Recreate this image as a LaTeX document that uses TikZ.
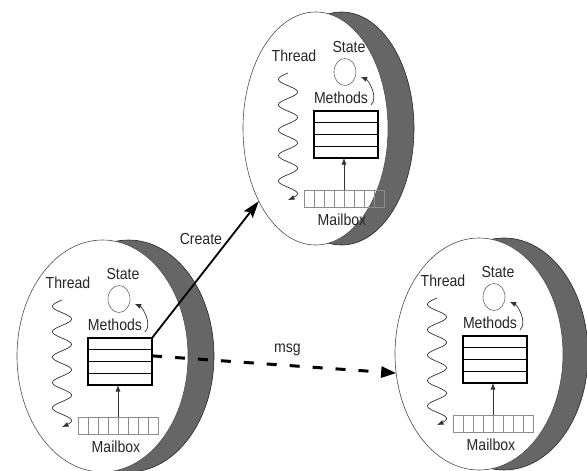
\documentclass[tikz,border=0pt]{standalone}
\usepackage{fontspec}
\setmainfont{Liberation Sans}[FakeStretch=0.88]
\usetikzlibrary{arrows.meta,shapes.geometric}

\tikzset{
	disk/.style={ellipse,draw=black!70,line width=0.6pt,fill=white,inner sep=0pt,outer sep=0pt},
	rim/.style={ellipse,draw=black!85,line width=0.6pt,fill=black!60,inner sep=0pt,outer sep=0pt},
	lbl/.style={font=\fontsize{16}{18}\selectfont,text=black!85,inner sep=0pt},
	methods/.style={rectangle,draw=black,line width=1.1pt,minimum width=64pt,minimum height=47pt,inner sep=0pt,outer sep=0pt},
	mailbox/.style={rectangle,draw=black!45,line width=0.6pt,minimum width=80pt,minimum height=17pt,inner sep=0pt,outer sep=0pt},
	statecirc/.style={ellipse,draw=black!60,line width=0.6pt,minimum width=22pt,minimum height=27pt,inner sep=0pt},
	feed/.style={-{Latex[length=6.5pt,width=5pt]},black!80,line width=0.7pt},
	create/.style={-{Stealth[length=17pt,width=11pt,inset=3pt]},black,line width=1.8pt},
	msg/.style={-{Triangle[length=15pt,width=11pt]},black,line width=3pt,dash pattern=on 10pt off 13pt},
	pics/actor/.style={code={
		\node[lbl] (-thread) at (-20,-55) {Thread};
		\node[lbl] (-statelbl) at (35,-64) {State};
		\node[statecirc] (-state) at (31,-39) {};
		\node[lbl] (-methodslbl) at (27,-13) {Methods};
		\node[methods] (-box) at (32,23.5) {};
		\foreach \r in {11.75,23.5,35.25}
			\draw[line width=1.1pt] (0,\r) -- (64,\r);
		\node[mailbox] (-mail) at (30,87.5) {};
		\foreach \c in {1,...,7}
			\draw[black!45,line width=0.6pt] (-10+\c*10,79) -- (-10+\c*10,96);
		\node[lbl] (-maillbl) at (28,109) {Mailbox};
		\draw[feed] (-mail.north) -- (-mail.north |- -box.south);
		\coordinate (-from) at (57,-6);
		\draw[feed,shorten >=5pt] (-from) .. controls +(8,-8) and +(12,5) .. (-state.-15);
		\draw[feed] plot[domain=0:127,samples=160,smooth] ({-26-9.5*sin(\x*14.1732)},{-38+\x});
	}}
}

\begin{document}
\begin{tikzpicture}[x=1pt,y=-1pt]
	\useasboundingbox (0,0) rectangle (587,471);
	\node[rim,minimum width=145pt,minimum height=233pt] (toprim) at (341.5,128.5) {};
	\node[disk,minimum width=145pt,minimum height=233pt] (topdisk) at (315.5,128.5) {};
	\node[rim,minimum width=171pt,minimum height=232pt] (leftrim) at (128.5,356) {};
	\node[disk,minimum width=171pt,minimum height=232pt] (leftdisk) at (102.5,356) {};
	\node[rim,minimum width=168pt,minimum height=232pt] (rightrim) at (504,354) {};
	\node[disk,minimum width=168pt,minimum height=232pt] (rightdisk) at (479,354) {};
	\pic (top) at (314,111) {actor};
	\pic (left) at (88,338) {actor};
	\pic (right) at (463,336) {actor};
	\path
		(left-box.north east) edge[create] node[lbl,pos=0.72,left=6pt] {Create} (topdisk)
		(left-box.10) edge[msg] node[lbl,pos=0.555,above=8pt] {msg} (rightdisk.193);
\end{tikzpicture}
\end{document}
